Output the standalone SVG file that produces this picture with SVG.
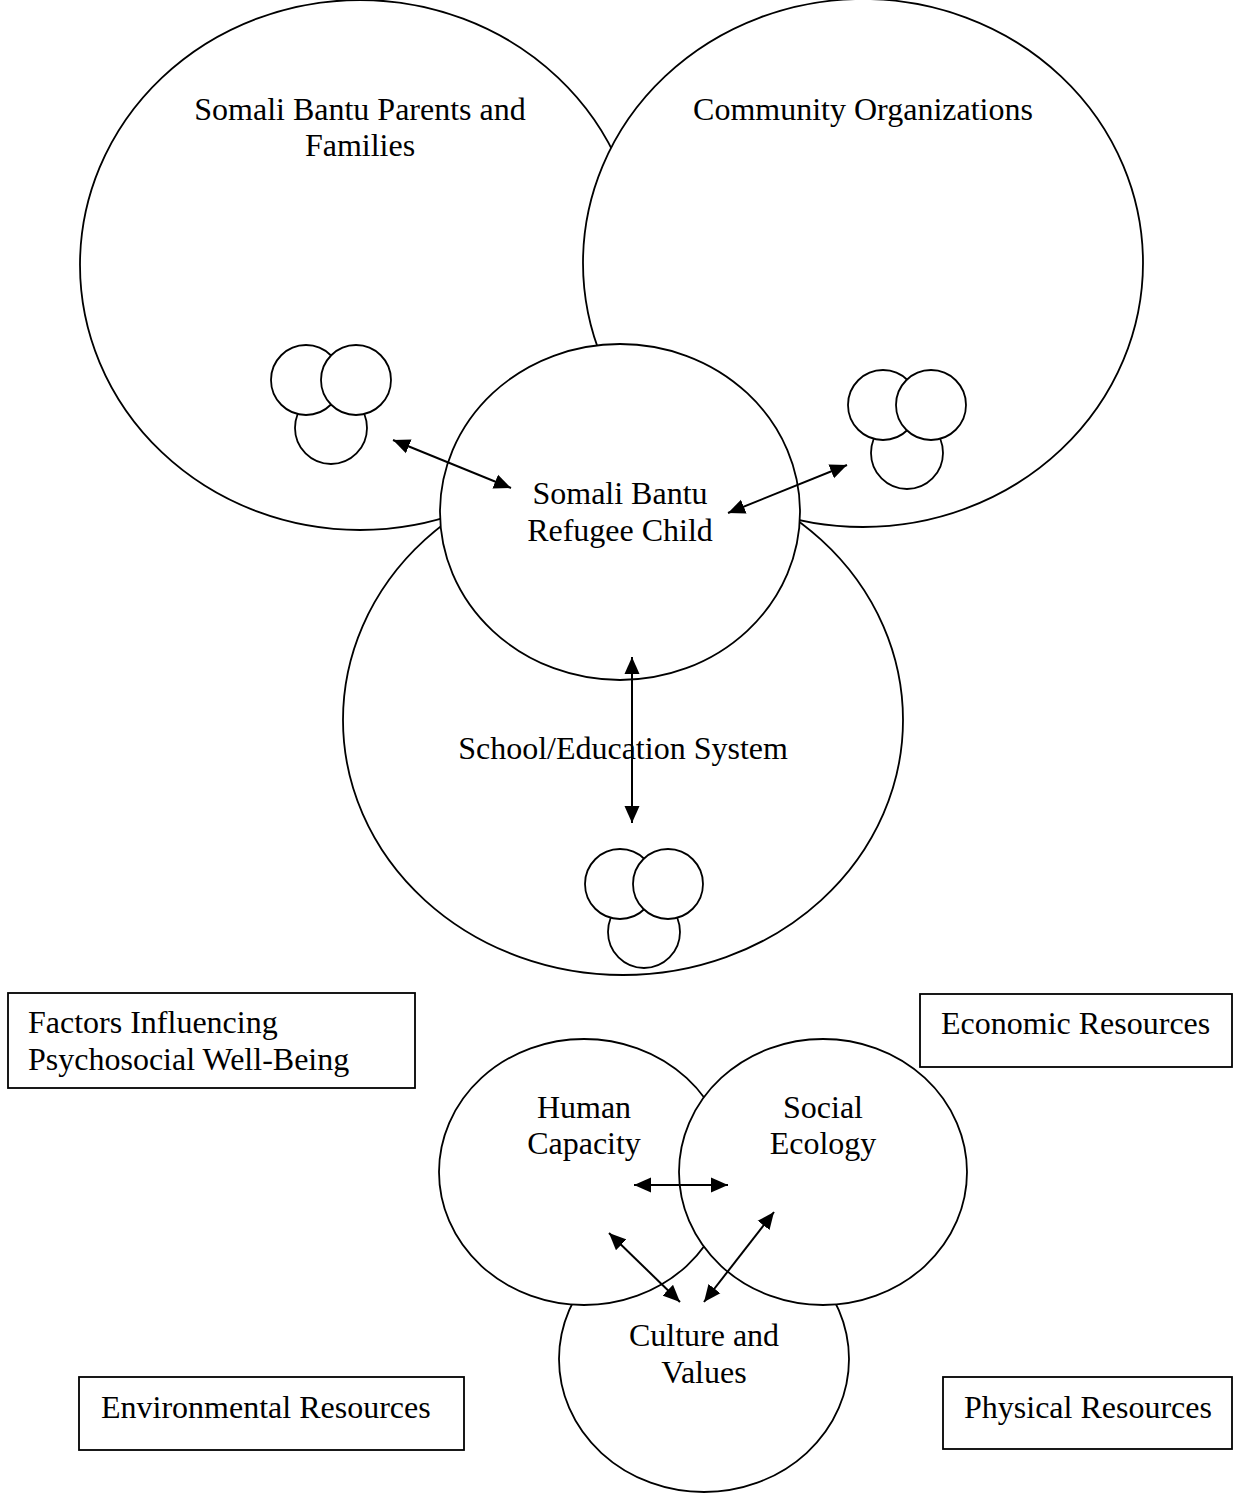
<svg xmlns="http://www.w3.org/2000/svg" width="1247" height="1494" viewBox="0 0 1247 1494">
<defs>
<style>
.shape{fill:#fff;stroke:#000;stroke-width:1.8}
.box{fill:#fff;stroke:#000;stroke-width:1.8}
.t{font-family:"Liberation Serif","Times New Roman",serif;font-size:32px;fill:#000}
.m{text-anchor:middle}
.conn{stroke:#000;stroke-width:2;fill:none;marker-start:url(#ah);marker-end:url(#ah)}
</style>
<marker id="ah" markerUnits="userSpaceOnUse" markerWidth="18" markerHeight="16" refX="17" refY="7.5" orient="auto-start-reverse" viewBox="0 0 18 15">
<path d="M0,0 L17,7.5 L0,15 Z" fill="#000"/>
</marker>
</defs>
<rect width="1247" height="1494" fill="#fff"/>
<g id="parents">
<ellipse class="shape" cx="360" cy="265" rx="280" ry="265"/>
<text class="t m" x="360" y="120">Somali Bantu Parents and</text>
<text class="t m" x="360" y="156">Families</text>
<g id="parents-cluster">
<circle class="shape" cx="331" cy="428" r="36"/>
<circle class="shape" cx="306" cy="380" r="35"/>
<circle class="shape" cx="356" cy="380" r="35"/>
</g>
</g>
<g id="community">
<ellipse class="shape" cx="863" cy="263" rx="280" ry="264"/>
<text class="t m" x="863" y="120">Community Organizations</text>
<g id="community-cluster">
<circle class="shape" cx="907" cy="453" r="36"/>
<circle class="shape" cx="883" cy="405" r="35"/>
<circle class="shape" cx="931" cy="405" r="35"/>
</g>
</g>
<g id="school">
<ellipse class="shape" cx="623" cy="720" rx="280" ry="255"/>
<text class="t m" x="623" y="759">School/Education System</text>
<g id="school-cluster">
<circle class="shape" cx="644" cy="932" r="36"/>
<circle class="shape" cx="620" cy="884" r="35"/>
<circle class="shape" cx="668" cy="884" r="35"/>
</g>
</g>
<g id="child">
<ellipse class="shape" cx="620" cy="512" rx="180" ry="168"/>
<text class="t m" x="620" y="504">Somali Bantu</text>
<text class="t m" x="620" y="541">Refugee Child</text>
</g>
<g id="factors">
<rect class="box" x="8" y="993" width="407" height="95"/>
<text class="t" x="28" y="1033">Factors Influencing</text>
<text class="t" x="28" y="1070">Psychosocial Well-Being</text>
</g>
<g id="economic">
<rect class="box" x="920" y="994" width="312" height="73"/>
<text class="t" x="941" y="1034">Economic Resources</text>
</g>
<g id="environmental">
<rect class="box" x="79" y="1377" width="385" height="73"/>
<text class="t" x="101" y="1418">Environmental Resources</text>
</g>
<g id="physical">
<rect class="box" x="943" y="1377" width="289" height="72"/>
<text class="t" x="964" y="1418">Physical Resources</text>
</g>
<g id="culture">
<ellipse class="shape" cx="704" cy="1359" rx="145" ry="133"/>
<text class="t m" x="704" y="1346">Culture and</text>
<text class="t m" x="704" y="1383">Values</text>
</g>
<g id="human">
<ellipse class="shape" cx="584" cy="1172" rx="145" ry="133"/>
<text class="t m" x="584" y="1118">Human</text>
<text class="t m" x="584" y="1154">Capacity</text>
</g>
<g id="social">
<ellipse class="shape" cx="823" cy="1172" rx="144" ry="133"/>
<text class="t m" x="823" y="1118">Social</text>
<text class="t m" x="823" y="1154">Ecology</text>
</g>
<g id="connectors">
<line class="conn" x1="393" y1="440" x2="511" y2="488"/>
<line class="conn" x1="728" y1="513" x2="847" y2="465"/>
<line class="conn" x1="632" y1="657" x2="632" y2="823"/>
<line class="conn" x1="634" y1="1185" x2="728" y2="1185"/>
<line class="conn" x1="609" y1="1233" x2="680" y2="1302"/>
<line class="conn" x1="774" y1="1212" x2="704" y2="1302"/>
</g>
</svg>
